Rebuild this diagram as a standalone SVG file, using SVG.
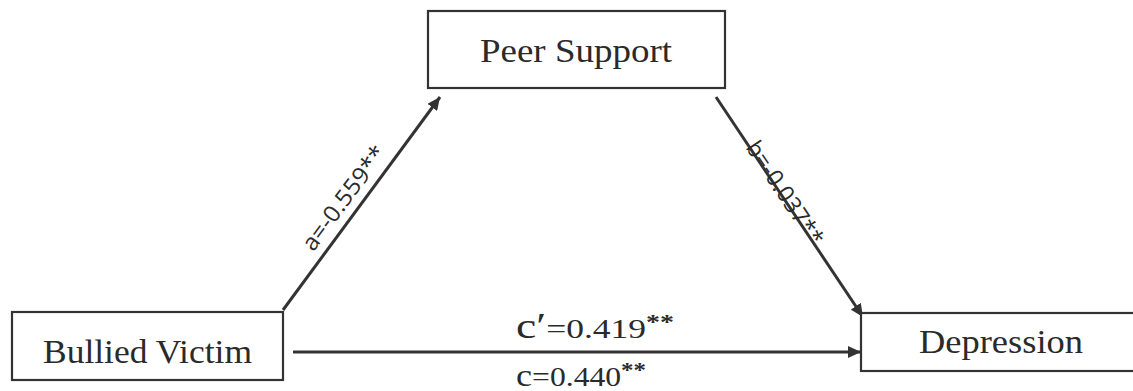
<svg xmlns="http://www.w3.org/2000/svg" width="1133" height="391" viewBox="0 0 1133 391">
<style>
.box{fill:#fff;stroke:#333;stroke-width:2.2}
.lbl{font-family:"Liberation Serif","Times New Roman",serif;font-size:34px;fill:#2a2a2a;text-anchor:middle}
.edge{stroke:#333;stroke-width:3;fill:none}
.coef{font-family:"Open Sans","Liberation Sans",sans-serif;font-size:23px;fill:#2a2a2a;text-anchor:middle}
.eq{font-family:"Liberation Serif","Times New Roman",serif;fill:#2a2a2a}
</style>
<defs>
<marker id="arr" markerUnits="userSpaceOnUse" markerWidth="14" markerHeight="12" refX="13" refY="6" orient="auto">
<path d="M0,0 L13,6 L0,12 z" fill="#333"/>
</marker>
</defs>
<rect width="1133" height="391" fill="#fff"/>
<g id="connectors">
<line class="edge" x1="283" y1="310" x2="440" y2="97" marker-end="url(#arr)"/>
<line class="edge" x1="716" y1="97" x2="863" y2="317" marker-end="url(#arr)"/>
<line class="edge" x1="293" y1="352" x2="861" y2="352" marker-end="url(#arr)"/>
<text class="coef" transform="translate(357.4,208.1) rotate(-53.4)" y="-9" textLength="124" lengthAdjust="spacingAndGlyphs">a=-0.559**</text>
<text class="coef" transform="translate(781.6,195.2) rotate(56.3)" y="4" textLength="120" lengthAdjust="spacingAndGlyphs">b=-0.037**</text>
<text class="eq" x="516" y="338" textLength="158" lengthAdjust="spacingAndGlyphs"><tspan font-size="36">c′</tspan><tspan font-size="28">=0.419</tspan><tspan font-size="22" font-weight="bold" dy="-9">**</tspan></text>
<text class="eq" x="516" y="386" textLength="130" lengthAdjust="spacingAndGlyphs"><tspan font-size="32">c</tspan><tspan font-size="28">=0.440</tspan><tspan font-size="22" font-weight="bold" dy="-9">**</tspan></text>
</g>
<g id="node-peer-support">
<rect class="box" x="428" y="11" width="297" height="77"/>
<text class="lbl" x="576" y="62" textLength="192" lengthAdjust="spacingAndGlyphs">Peer Support</text>
</g>
<g id="node-bullied-victim">
<rect class="box" x="12" y="312" width="271" height="68"/>
<text class="lbl" x="147.5" y="363" textLength="209" lengthAdjust="spacingAndGlyphs">Bullied Victim</text>
</g>
<g id="node-depression">
<rect class="box" x="861" y="313" width="290" height="58"/>
<text class="lbl" x="1001" y="353" textLength="164" lengthAdjust="spacingAndGlyphs">Depression</text>
</g>
</svg>
